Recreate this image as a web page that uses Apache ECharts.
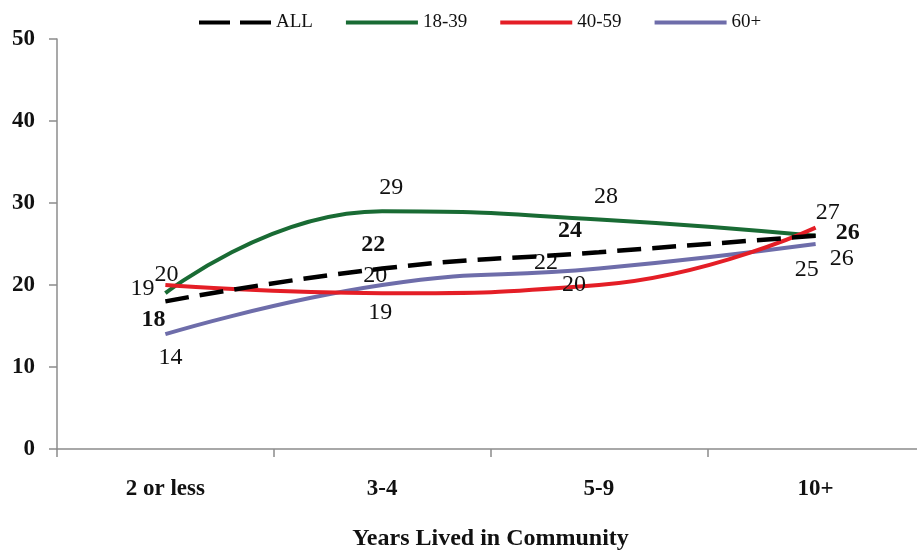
<!DOCTYPE html>
<html>
<head>
<meta charset="utf-8">
<title>Years Lived in Community</title>
<script src="https://cdn.jsdelivr.net/npm/echarts@6/dist/echarts.min.js"></script>
<style>
  html, body { margin: 0; padding: 0; background: #ffffff; }
  #chart { width: 917px; height: 552px; }
</style>
</head>
<body>
<div id="chart"></div>
<script>
// Share by years lived in the community, overall and by age group
const categories = ['2 or less', '3-4', '5-9', '10+'];
const seriesNames = ['ALL', '18-39', '40-59', '60+'];
const allValues = [18, 22, 24, 26];
const age18to39 = [19, 29, 28, 26];
const age40to59 = [20, 19, 20, 27];
const age60plus = [14, 20, 22, 25];
const yTicks = [0, 10, 20, 30, 40, 50];

const FONT = '"Liberation Serif", "Times New Roman", serif';

// label offsets (dx, dy) from each point, per series
const labelOffsets = {
  'ALL':   [[-12, 18], [-9, -24], [-29, -21], [32, -3]],
  '18-39': [[-23, -4], [9, -23], [7, -23], [26, 23]],
  '40-59': [[1, -10], [-2, 20], [-25, 0], [12, -15]],
  '60+':   [[5, 24], [-7, -9], [-53, -6], [-9, 26]]
};

function buildData(name, values) {
  return values.map((v, i) => ({
    value: v,
    label: { offset: labelOffsets[name][i] }
  }));
}

function lineSeries(name, values, color, opts) {
  opts = opts || {};
  return {
    name: name,
    type: 'line',
    smooth: 0.5,
    data: buildData(name, values),
    symbol: 'circle',
    symbolSize: 1,
    itemStyle: { color: 'rgba(0,0,0,0)' },
    lineStyle: {
      color: color,
      width: opts.width || 4,
      type: opts.dash || 'solid',
      cap: 'butt'
    },
    label: {
      show: true,
      position: 'inside',
      align: 'center',
      verticalAlign: 'middle',
      fontFamily: FONT,
      fontSize: 24,
      fontWeight: opts.bold ? 'bold' : 'normal',
      color: '#111111'
    },
    emphasis: { disabled: true },
    z: opts.z || 2
  };
}

// legend entries; the dashed one gets two full dashes in its swatch
const legendData = seriesNames.map((n, i) =>
  i === 0 ? { name: n, lineStyle: { type: [31, 10] } } : { name: n }
);

const chart = echarts.init(document.getElementById('chart'), null, { renderer: 'canvas' });

chart.setOption({
  animation: false,
  backgroundColor: '#ffffff',
  legend: {
    top: 8,
    left: 192,
    itemWidth: 72,
    itemHeight: 14,
    itemGap: 31,
    itemStyle: { opacity: 0 },
    lineStyle: { width: 4 },
    textStyle: { fontFamily: FONT, fontSize: 19, color: '#111111' },
    data: legendData
  },
  grid: {
    left: 57, right: -7, top: 39, bottom: 103,
    containLabel: false,
    outerBoundsMode: 'none'
  },
  xAxis: {
    type: 'category',
    data: categories,
    boundaryGap: true,
    axisLine: { lineStyle: { color: '#8c8c8c', width: 1.5 } },
    axisTick: { show: true, length: 8, lineStyle: { color: '#8c8c8c', width: 1.5 } },
    axisLabel: {
      margin: 29,
      fontFamily: FONT, fontSize: 23, fontWeight: 'bold', color: '#111111'
    },
    name: 'Years Lived in Community',
    nameLocation: 'middle',
    nameGap: 78,
    nameTextStyle: { fontFamily: FONT, fontSize: 24, fontWeight: 'bold', color: '#111111' }
  },
  yAxis: {
    type: 'value',
    min: yTicks[0],
    max: yTicks[yTicks.length - 1],
    interval: yTicks[1] - yTicks[0],
    splitLine: { show: false },
    axisLine: { show: true, lineStyle: { color: '#8c8c8c', width: 1.5 } },
    axisTick: { show: true, length: 8, lineStyle: { color: '#8c8c8c', width: 1.5 } },
    axisLabel: {
      margin: 22,
      fontFamily: FONT, fontSize: 23, fontWeight: 'bold', color: '#111111'
    }
  },
  series: [
    lineSeries('ALL', allValues, '#000000', { dash: [24, 11], width: 4.5, bold: true, z: 5 }),
    lineSeries('18-39', age18to39, '#196b34', {}),
    lineSeries('40-59', age40to59, '#e41e26', { z: 3 }),
    lineSeries('60+', age60plus, '#6e6daa', {})
  ]
});
</script>
</body>
</html>
